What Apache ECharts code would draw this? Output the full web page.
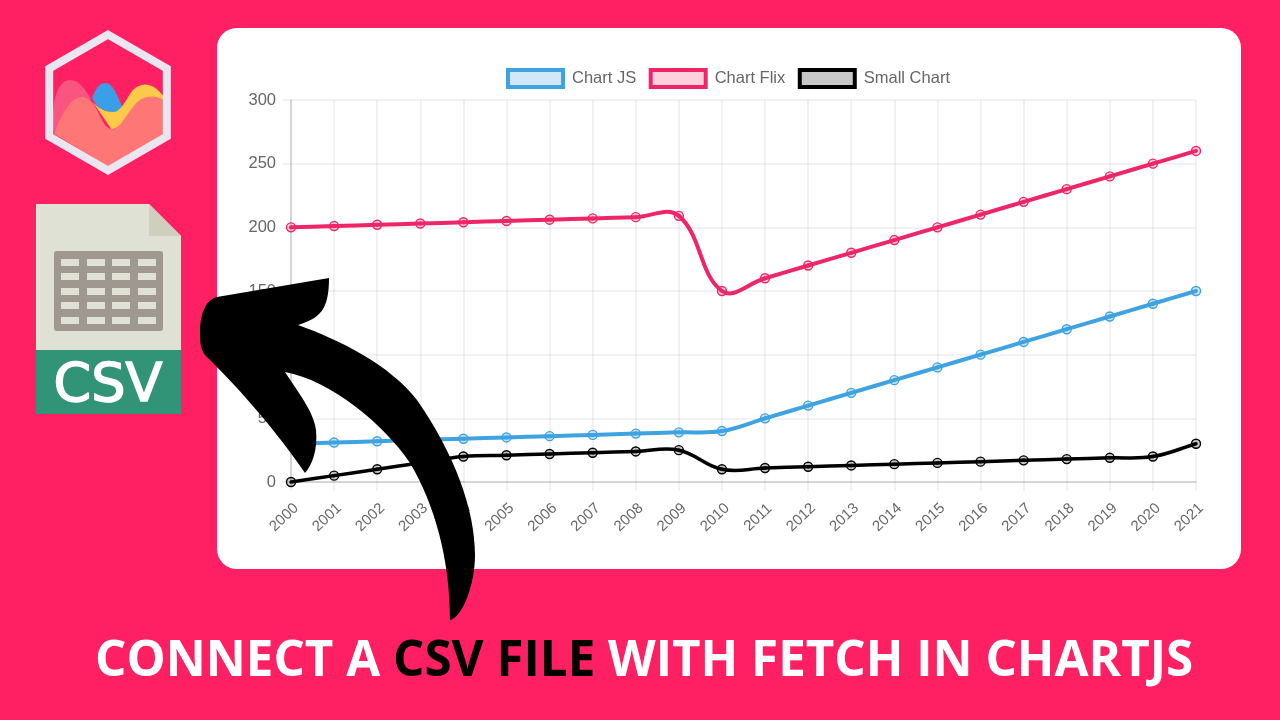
<!DOCTYPE html>
<html>
<head>
<meta charset="utf-8">
<title>Connect a CSV file with fetch in ChartJS</title>
<script src="https://cdn.jsdelivr.net/npm/echarts@6/dist/echarts.min.js"></script>
<style>
  html, body { margin: 0; padding: 0; background: #fe2063; }
  #chart { width: 1280px; height: 720px; }
</style>
</head>
<body>
<div id="chart"></div>
<script>
const years = ['2000', '2001', '2002', '2003', '2004', '2005', '2006', '2007', '2008', '2009', '2010',
  '2011', '2012', '2013', '2014', '2015', '2016', '2017', '2018', '2019', '2020', '2021']
const chartJs = [30, 31, 32, 33, 34, 35, 36, 37, 38, 39, 40, 50, 60, 70, 80, 90, 100, 110, 120, 130, 140, 150]
const chartFlix = [200, 201, 202, 203, 204, 205, 206, 207, 208, 209, 150, 160, 170, 180, 190, 200, 210, 220, 230, 240, 250, 260]
const smallChart = [0, 5, 10, 15, 20, 21, 22, 23, 24, 25, 10, 11, 12, 13, 14, 15, 16, 17, 18, 19, 20, 30]

const chart = echarts.init(document.getElementById('chart'))

// the reference curve overshoots its points, line series smoothing clamps that away
function splineControls(prev, cur, next, tension) {
  const d01 = Math.hypot(cur[0] - prev[0], cur[1] - prev[1])
  const d12 = Math.hypot(next[0] - cur[0], next[1] - cur[1])
  const total = d01 + d12 || 1
  const dx = next[0] - prev[0]
  const dy = next[1] - prev[1]
  return {
    before: [cur[0] - tension * d01 / total * dx, cur[1] - tension * d01 / total * dy],
    after: [cur[0] + tension * d12 / total * dx, cur[1] + tension * d12 / total * dy]
  }
}

function splineSeries(name, values, color, fill, lineWidth) {
  return {
    name: name,
    type: 'custom',
    coordinateSystem: 'cartesian2d',
    clip: false,
    data: values.map((v, i) => [i, v]),
    encode: { x: 0, y: 1 },
    itemStyle: { color: fill, borderColor: color, borderWidth: 4 },
    renderItem: function(params, api) {
      const i = params.dataIndex
      const at = k => api.coord([Math.max(0, Math.min(values.length - 1, k)), values[Math.max(0, Math.min(values.length - 1, k))]])
      const cur = at(i)
      const children = []
      if (i < values.length - 1) {
        const next = at(i + 1)
        const c0 = splineControls(at(i - 1), cur, next, 0.4)
        const c1 = splineControls(cur, next, at(i + 2), 0.4)
        children.push({
          type: 'bezierCurve',
          shape: {
            x1: cur[0], y1: cur[1],
            cpx1: c0.after[0], cpy1: c0.after[1],
            cpx2: c1.before[0], cpy2: c1.before[1],
            x2: next[0], y2: next[1]
          },
          style: { fill: null, stroke: color, lineWidth: lineWidth, lineCap: 'round' }
        })
      }
      children.push({
        type: 'circle',
        z2: 5,
        shape: { cx: cur[0], cy: cur[1], r: 4.5 },
        style: { fill: fill, stroke: color, lineWidth: 1.4 }
      })
      return { type: 'group', children: children }
    }
  }
}

// the graphic component has no plain path type, so svg outlines get registered as shapes
function outline(name, pathData, fill, z) {
  echarts.graphic.registerShape(name, echarts.graphic.extendPath(pathData, {}))
  return { type: name, z: z, style: { fill: fill } }
}

// decoration around the chart: card, logo, csv icon, arrow
const cellXs = [61, 87, 112, 138]
const cellYs = [259, 273, 288, 302, 317]
const csvCells = []
cellYs.forEach(y => cellXs.forEach(x => csvCells.push({
  type: 'rect', z: 10, shape: { x: x, y: y, width: 18, height: 7 }, style: { fill: '#e0e1d5' }
})))

const decorations = [
  { type: 'rect', z: -1, shape: { x: 217, y: 28, width: 1024, height: 541, r: 20 }, style: { fill: '#fff' } },
  // logo
  outline('logoPink', 'M53,117 C53,95 60,80 70,80 C80,80 85,90 91,99 L80,110 L55,134 L53,130 Z', '#fa5480', 10),
  outline('logoBlue', 'M92,98 C96,88 100,83 105,83 C113,83 117,95 123,108 C118,112 113,113 108,112 C100,110 96,105 92,98 Z', '#3b9fe8', 10),
  outline('logoYellow', 'M90,98 C95,106 103,112 113,112 C122,112 126,98 133,90 C140,83 152,80 164,97 L164,102 L112,130 Z', '#fcc949', 10),
  outline('logoCoral', 'M54,134 C60,118 70,97 82,97 C92,97 97,110 101,118 C104,125 108,129 112,129 C120,129 126,115 133,107 C140,97 152,93 164,100 L164,134 L108,166 Z', '#fe7676', 10),
  { type: 'polygon', z: 11, shape: { points: [[108, 34.6], [166.8, 68.5], [166.8, 136.5], [108, 170.4], [49.2, 136.5], [49.2, 68.5]] }, style: { fill: null, stroke: '#e9e6ef', lineWidth: 8 } },
  // csv icon
  { type: 'polygon', z: 10, shape: { points: [[36, 204], [149, 204], [181, 236], [181, 350], [36, 350]] }, style: { fill: '#e0e1d5' } },
  { type: 'polygon', z: 10, shape: { points: [[149, 204], [181, 236], [149, 236]] }, style: { fill: '#cfcfbd' } },
  { type: 'rect', z: 10, shape: { x: 54, y: 251, width: 109, height: 80, r: 3 }, style: { fill: '#9e9890' } },
  ...csvCells,
  { type: 'rect', z: 10, shape: { x: 36, y: 350, width: 145, height: 64 }, style: { fill: '#329476' } },
  { type: 'text', z: 11, x: 108, y: 387, style: { text: 'CSV', fill: '#fff', stroke: '#fff', lineWidth: 1.5, font: '54px "DejaVu Sans"', align: 'center', verticalAlign: 'middle' } },
  // arrow sits above everything
  outline('bigArrow', 'M329,278 L217,297 C205,300 200,315 200,333 C200,345 201,352 208,358 C225,375 265,415 305,473 C312,465 318,450 316,430 C314,412 298,392 285,372 C330,380 385,425 410,463 C435,505 450,560 450,620 C462,618 475,585 475,555 C475,510 455,455 417,400 C390,365 340,340 298,325 C320,318 329,310 329,278 Z', '#000', 100)
]

const option = {
  backgroundColor: '#fe2063',
  animation: false,
  title: {
    left: 90,
    top: 632,
    text: '{w|CONNECT A }{k|CSV FILE}{w| WITH FETCH IN CHARTJS}',
    textStyle: {
      rich: {
        w: { color: '#fff', fontFamily: 'Open Sans', fontWeight: 'bold', fontSize: 49.3 },
        k: { color: '#000', fontFamily: 'Open Sans', fontWeight: 'bold', fontSize: 49.3 }
      }
    }
  },
  legend: {
    left: 501,
    top: 63,
    itemWidth: 55,
    itemHeight: 17,
    itemGap: 12.5,
    textStyle: { color: '#666', fontFamily: 'Liberation Sans', fontSize: 16.5, padding: [0, 0, 0, 4] },
    data: [
      { name: 'Chart JS', icon: 'rect', itemStyle: { color: '#d2e8f9', borderColor: '#3ea3e0', borderWidth: 4 } },
      { name: 'Chart Flix', icon: 'rect', itemStyle: { color: '#fdd0de', borderColor: '#ee2668', borderWidth: 4 } },
      { name: 'Small Chart', icon: 'rect', itemStyle: { color: '#c8c8c8', borderColor: '#000', borderWidth: 4 } }
    ]
  },
  grid: { left: 291, right: 84, top: 100, height: 382 },
  xAxis: {
    type: 'category',
    data: years,
    boundaryGap: false,
    axisLine: { lineStyle: { color: 'rgba(0,0,0,0.16)', width: 1.5 } },
    axisTick: { length: 9, lineStyle: { color: 'rgba(0,0,0,0.07)', width: 1.5 } },
    splitLine: { show: true, lineStyle: { color: 'rgba(0,0,0,0.07)', width: 1.5 } },
    axisLabel: {
      interval: 0,
      rotate: 43,
      align: 'center',
      verticalAlign: 'middle',
      padding: [0, 19, 0, 0],
      margin: 29,
      color: '#666',
      fontFamily: 'Liberation Sans',
      fontSize: 15
    }
  },
  yAxis: {
    type: 'value',
    min: 0,
    max: 300,
    interval: 50,
    axisLine: { show: true, lineStyle: { color: 'rgba(0,0,0,0.16)', width: 1.5 } },
    axisTick: { show: true, length: 9, lineStyle: { color: 'rgba(0,0,0,0.07)', width: 1.5 } },
    splitLine: { lineStyle: { color: 'rgba(0,0,0,0.07)', width: 1.5 } },
    axisLabel: { margin: 15, color: '#666', fontFamily: 'Liberation Sans', fontSize: 16.5 }
  },
  series: [
    splineSeries('Chart JS', chartJs, '#3ea3e0', 'rgba(62,163,224,0.25)', 4),
    splineSeries('Chart Flix', chartFlix, '#ee2668', 'rgba(238,38,104,0.2)', 4),
    splineSeries('Small Chart', smallChart, '#000', 'rgba(0,0,0,0.2)', 3.5)
  ],
  graphic: { elements: decorations }
}

chart.setOption(option)
</script>
</body>
</html>
